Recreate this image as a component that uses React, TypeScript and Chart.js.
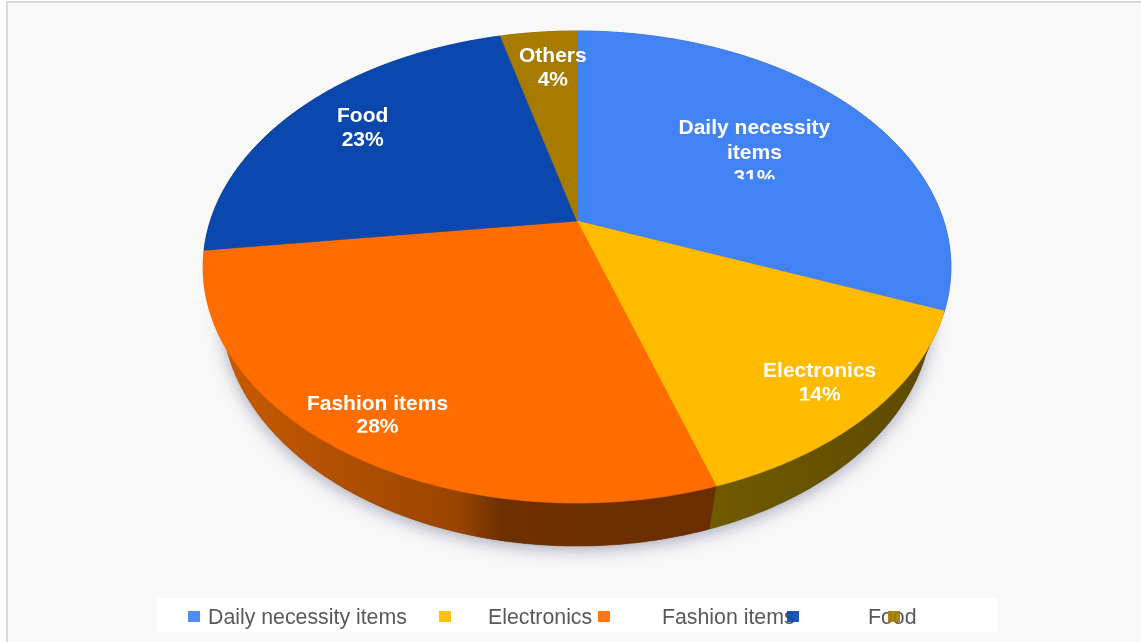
import React, { useEffect, useRef } from "react";
import { Chart, registerables } from "chart.js";

Chart.register(...registerables);

const categories = ["Daily necessity items", "Electronics", "Fashion items", "Food", "Others"];
const shares = [31, 14, 28, 23, 4];
const labelLines = [["Daily necessity", "items", "31%"], ["Electronics", "14%"], ["Fashion items", "28%"], ["Food", "23%"], ["Others", "4%"]];
const topColors = ["#4182f5", "#ffbb00", "#ff6d00", "#0b48ad", "#a67b00"];
const wallColors = [
  [[0, "#24489a"], [1, "#24489a"]],
  [[0, "#6f5a00"], [1, "#5c4900"]],
  [[0, "#cc5c00"], [0.5, "#984400"], [0.58, "#6e3000"], [1, "#6b2e00"]],
  [[0, "#06275f"], [1, "#06275f"]],
  [[0, "#5b4300"], [1, "#5b4300"]],
];

// Radial position of each slice label, as a fraction of the radius, plus a small pixel nudge.
const labelRadius = [0.625, 0.85, 0.87, 0.77, 0.78];
const labelNudge = [[0, 7], [0, 2], [0, 0], [1, -2], [7, 0]];
// Labels sit in boxes that are shorter than their text; distance from block centre to box bottom.
const labelBoxBottom = [26, 17.5, 17, 19.5, 17.5];
const labelLineHeight = [25, 23.5, 23.5, 24, 24];

const legendSwatchX = [188, 439, 598, 787, 888];
const legendTextX = [208, 488, 662, 868];

// Tilted-disc projection applied to the circle that the pie controller lays out.
const TILT = { k: 0.195, sx: 1.93, sy: 1.195, depth: 43, baseShrink: 0.95 };

function project(arc: any, angle: number, f = 1, base = false) {
  const dx = arc.outerRadius * f * Math.cos(angle);
  const dy = arc.outerRadius * f * Math.sin(angle);
  const w = 1 - TILT.k * f * Math.sin(angle);
  const s = base ? TILT.baseShrink : 1;
  return {
    x: arc.x + (TILT.sx * s * dx) / w,
    y: arc.y + (TILT.sy * dy) / w + (base ? TILT.depth : 0),
  };
}

function rimPoints(arc: any, base = false) {
  const pts = [];
  const steps = Math.max(2, Math.ceil((arc.endAngle - arc.startAngle) / 0.01));
  for (let i = 0; i <= steps; i++) {
    pts.push(project(arc, arc.startAngle + ((arc.endAngle - arc.startAngle) * i) / steps, 1, base));
  }
  return pts;
}

const tiltedPie = {
  id: "tiltedPie",
  beforeDatasetDraw(chart: any) {
    const { ctx } = chart;
    const arcs = chart.getDatasetMeta(0).data;

    // Soft shadow under the disc.
    ctx.save();
    ctx.shadowColor = "rgba(105,110,140,0.55)";
    ctx.shadowBlur = 16;
    ctx.shadowOffsetY = 4;
    ctx.fillStyle = "#555";
    ctx.beginPath();
    arcs.forEach((arc: any) => rimPoints(arc, true).forEach((p: any) => ctx.lineTo(p.x, p.y)));
    ctx.closePath();
    ctx.fill();
    ctx.restore();

    // Side wall, drawn first so the top faces cover its hidden part.
    arcs.forEach((arc: any, i: number) => {
      const top = rimPoints(arc);
      const base = rimPoints(arc, true).reverse();
      const left = Math.min(...top.map((p: any) => p.x));
      const right = Math.max(...top.map((p: any) => p.x));
      const grad = ctx.createLinearGradient(left, 0, right, 0);
      wallColors[i].forEach(([stop, color]: any) => grad.addColorStop(stop, color));
      ctx.fillStyle = grad;
      ctx.strokeStyle = grad;
      ctx.lineWidth = 0.5;
      ctx.beginPath();
      [...top, ...base].forEach((p: any) => ctx.lineTo(p.x, p.y));
      ctx.closePath();
      ctx.fill();
      ctx.stroke();
    });

    // Top faces.
    arcs.forEach((arc: any) => {
      ctx.fillStyle = arc.options.backgroundColor;
      ctx.strokeStyle = arc.options.backgroundColor;
      ctx.lineWidth = 0.6;
      ctx.beginPath();
      ctx.moveTo(arc.x, arc.y);
      rimPoints(arc).forEach((p: any) => ctx.lineTo(p.x, p.y));
      ctx.closePath();
      ctx.fill();
      ctx.stroke();
    });
    return false;
  },
  afterDatasetsDraw(chart: any) {
    const { ctx } = chart;
    chart.getDatasetMeta(0).data.forEach((arc: any, i: number) => {
      const mid = (arc.startAngle + arc.endAngle) / 2;
      const p = project(arc, mid, labelRadius[i]);
      const cx = p.x + labelNudge[i][0];
      const cy = p.y + labelNudge[i][1];
      const lines = labelLines[i];
      const lh = labelLineHeight[i];
      ctx.save();
      ctx.beginPath();
      ctx.rect(cx - 120, cy - 70, 240, 70 + labelBoxBottom[i]);
      ctx.clip();
      ctx.font = 'bold 21px "Liberation Sans", Arial, sans-serif';
      ctx.fillStyle = "#ffffff";
      ctx.textAlign = "center";
      ctx.textBaseline = "middle";
      lines.forEach((line, j) => {
        ctx.fillText(line, cx, cy + (j - (lines.length - 1) / 2) * lh);
      });
      ctx.restore();
    });
  },
};

const pageFrame = {
  id: "pageFrame",
  beforeDraw(chart: any) {
    const { ctx, width, height } = chart;
    ctx.save();
    ctx.fillStyle = "#f8f8f8";
    ctx.fillRect(0, 0, width, height);
    ctx.fillStyle = "#ffffff";
    ctx.fillRect(0, 0, width, 1);
    ctx.fillRect(0, 0, 6, height);
    ctx.fillStyle = "#d9d9d9";
    ctx.fillRect(6, 1, width - 6, 2);
    ctx.fillRect(6, 1, 2, height - 1);
    ctx.restore();
  },
};

// The legend strip: text is laid out first, swatches go on top of it.
const legendStrip = {
  id: "legendStrip",
  afterDraw(chart: any) {
    const { ctx } = chart;
    ctx.save();
    ctx.fillStyle = "#ffffff";
    ctx.fillRect(157, 598, 841, 34);
    ctx.font = '21.3px "Liberation Sans", Arial, sans-serif';
    ctx.fillStyle = "#595959";
    ctx.textBaseline = "middle";
    legendTextX.forEach((x, i) => ctx.fillText(categories[i], x, 618));
    ctx.globalAlpha = 0.92;
    legendSwatchX.forEach((x, i) => {
      ctx.fillStyle = topColors[i];
      ctx.fillRect(x, 611, 12, 11);
    });
    ctx.restore();
  },
};

export default function App() {
  const ref = useRef<HTMLCanvasElement | null>(null);
  useEffect(() => {
    const chart = new Chart(ref.current as HTMLCanvasElement, {
      type: "pie",
      data: {
        labels: categories,
        datasets: [{ data: shares, backgroundColor: topColors, borderWidth: 0 }],
      },
      options: {
        animation: false,
        responsive: false,
        layout: { padding: { left: 387, right: 374, top: 31, bottom: 231 } },
        plugins: { legend: { display: false }, tooltip: { enabled: false } },
      },
      plugins: [pageFrame, tiltedPie, legendStrip],
    });
    return () => chart.destroy();
  }, []);
  return (
    <div style={{ position: "absolute", left: 0, top: 0, width: 1141, height: 642 }}>
      <canvas ref={ref} width={1141} height={642} style={{ display: "block", width: 1141, height: 642 }} />
    </div>
  );
}
